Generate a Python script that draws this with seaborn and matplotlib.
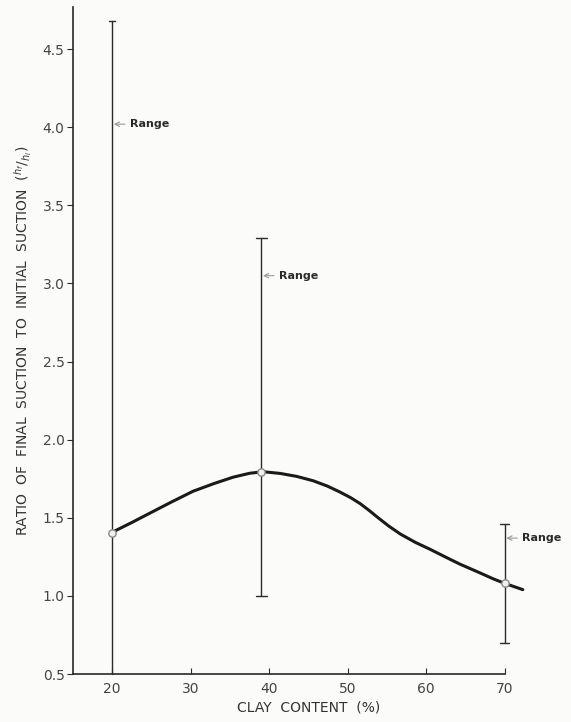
import numpy as np
import matplotlib
matplotlib.use("Agg")
import matplotlib.pyplot as plt
import seaborn as sns

# measured points (clay content %, ratio hf/hi)
clay = [20, 39, 70]
ratio = [1.40, 1.79, 1.08]
range_low = [0.50, 1.00, 0.70]
range_high = [4.68, 3.29, 1.46]
range_label_y = [4.02, 3.05, 1.37]

# fitted curve
curve_x = [20.1, 22.5, 24.8, 27.5, 30.3, 33.0, 35.4, 37.5, 39.2, 41.4, 43.5,
           45.6, 47.4, 49.0, 50.4, 51.6, 52.7, 53.7, 55.2, 56.7, 58.6, 60.5,
           62.4, 64.3, 66.5, 68.5, 70.0, 72.3]
curve_y = [1.41, 1.47, 1.53, 1.60, 1.67, 1.72, 1.76, 1.785, 1.795, 1.784, 1.765,
           1.737, 1.703, 1.665, 1.628, 1.590, 1.548, 1.507, 1.448, 1.396, 1.343, 1.298,
           1.25, 1.203, 1.155, 1.11, 1.08, 1.04]

xticks = [20, 30, 40, 50, 60, 70]
yticks = [0.5, 1.0, 1.5, 2.0, 2.5, 3.0, 3.5, 4.0, 4.5]

sns.set_style("ticks")
plt.rcParams['font.family'] = ['DejaVu Sans']
ink = '#2a2a2a'

fig = plt.figure(figsize=(5.71, 7.22), dpi=100, facecolor='#fbfbfa')
ax = fig.add_axes([73 / 571, 1 - 674 / 722, (544 - 73) / 571, (674 - 7) / 722])
ax.set_facecolor('#fbfbfa')

# range bars
caps = [0.4, 0.7, 0.6]
for x, lo, hi, c in zip(clay, range_low, range_high, caps):
    ax.plot([x, x], [lo, hi], color=ink, lw=1.0, clip_on=False)
    ax.plot([x - c, x + c], [hi, hi], color=ink, lw=1.0, clip_on=False)
    if lo > 0.5:
        ax.plot([x - c, x + c], [lo, lo], color=ink, lw=1.0)

sns.lineplot(x=curve_x, y=curve_y, ax=ax, color='#1a1a1a', lw=2.2, sort=False)
sns.scatterplot(x=clay, y=ratio, ax=ax, s=28, facecolor='#f0f0f0',
                edgecolor='#888888', linewidth=1.0, zorder=5)

for x, y in zip(clay, range_label_y):
    ax.annotate('Range', xy=(x + 0.2, y), xytext=(x + 2.2, y),
                fontsize=8, color=ink, va='center', fontweight='bold',
                arrowprops=dict(arrowstyle='->', color='#999999', lw=0.8,
                                shrinkA=1, shrinkB=0))

ax.set_xlim(15, 75)
ax.set_ylim(0.5, 4.77)
ax.set_xticks(xticks)
ax.set_yticks(yticks)
ax.set_xticklabels([str(t) for t in xticks], fontsize=10, color='#444444')
ax.set_yticklabels([f'{t:.1f}' for t in yticks], fontsize=10, color='#444444')
ax.tick_params(axis='x', direction='in', length=4, width=0.8, pad=6, color=ink)
ax.tick_params(axis='y', direction='out', length=4, width=0.8, pad=2, color=ink)

sns.despine(ax=ax)
ax.spines['bottom'].set_bounds(15, 70)
for s in ['left', 'bottom']:
    ax.spines[s].set_color(ink)
    ax.spines[s].set_linewidth(1.2)

ax.set_xlabel('CLAY  CONTENT  (%)', fontsize=10, color='#333333', labelpad=3)
ax.set_ylabel(r'RATIO  OF  FINAL  SUCTION  TO  INITIAL  SUCTION  ($^{h_f}/_{h_i}$)',
              fontsize=10, color='#333333', labelpad=6)

fig.savefig('out.png', dpi=100, facecolor=fig.get_facecolor())
